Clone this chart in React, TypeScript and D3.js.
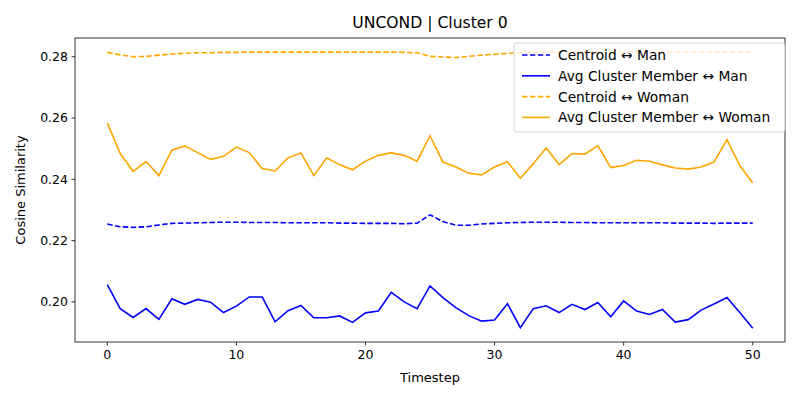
import * as d3 from "d3"

const timesteps = d3.range(0, 51)

const centroidMan = [
  0.2254, 0.2245, 0.2243, 0.2245, 0.2251, 0.2256, 0.2257, 0.2258, 0.2259, 0.226,
  0.226, 0.2259, 0.2259, 0.2259, 0.2258, 0.2258, 0.2258, 0.2258, 0.2257, 0.2257,
  0.2256, 0.2256, 0.2256, 0.2255, 0.2257, 0.2284, 0.2262, 0.225, 0.225, 0.2254,
  0.2256, 0.2258, 0.2259, 0.226, 0.226, 0.226, 0.2259, 0.2259, 0.2258, 0.2258,
  0.2258, 0.2258, 0.2258, 0.2258, 0.2257, 0.2257, 0.2257, 0.2256, 0.2257, 0.2257,
  0.2257,
]
const avgMan = [
  0.2056, 0.1978, 0.1949, 0.1978, 0.1943, 0.201, 0.1992, 0.2008, 0.1999, 0.1965,
  0.1986, 0.2016, 0.2016, 0.1935, 0.1971, 0.1988, 0.1948, 0.1948, 0.1954, 0.1933,
  0.1964, 0.197, 0.2031, 0.2, 0.1978, 0.2052, 0.2014, 0.1981, 0.1955, 0.1937,
  0.1941, 0.1994, 0.1916, 0.1978, 0.1987, 0.1965, 0.1992, 0.1975, 0.1998, 0.1951,
  0.2003, 0.197, 0.1959, 0.1975, 0.1934, 0.1942, 0.1973, 0.1993, 0.2014, 0.1965,
  0.1914,
]
const centroidWoman = [
  0.2814, 0.2806, 0.28, 0.2801, 0.2805, 0.2809, 0.2811, 0.2813, 0.2813, 0.2814,
  0.2814, 0.2815, 0.2815, 0.2815, 0.2815, 0.2815, 0.2815, 0.2815, 0.2815, 0.2815,
  0.2815, 0.2815, 0.2815, 0.2814, 0.2813, 0.2801, 0.2799, 0.2797, 0.2801, 0.2805,
  0.2808, 0.2811, 0.2813, 0.2814, 0.2815, 0.2815, 0.2815, 0.2815, 0.2815, 0.2815,
  0.2815, 0.2815, 0.2815, 0.2815, 0.2815, 0.2815, 0.2815, 0.2815, 0.2815, 0.2815,
  0.2815,
]
const avgWoman = [
  0.2584, 0.2484, 0.2426, 0.2458, 0.2412, 0.2495, 0.2509, 0.2487, 0.2465, 0.2475,
  0.2505, 0.2487, 0.2435, 0.2427, 0.247, 0.2486, 0.2412, 0.247, 0.2447, 0.2431,
  0.2459, 0.2478, 0.2486, 0.2478, 0.2459, 0.2542, 0.2456, 0.244, 0.242, 0.2414,
  0.244, 0.2457, 0.2403, 0.2451, 0.2502, 0.2448, 0.2484, 0.2482, 0.251, 0.2438,
  0.2445, 0.2462, 0.2459, 0.2447, 0.2437, 0.2433, 0.244, 0.2456, 0.2529, 0.2445,
  0.2388,
]

const series = [
  { label: "Centroid ↔ Man", values: centroidMan, color: "blue", dashed: true },
  { label: "Avg Cluster Member ↔ Man", values: avgMan, color: "blue", dashed: false },
  { label: "Centroid ↔ Woman", values: centroidWoman, color: "orange", dashed: true },
  { label: "Avg Cluster Member ↔ Woman", values: avgWoman, color: "orange", dashed: false },
]

const xTicks = [0, 10, 20, 30, 40, 50]
const yTicks = [0.2, 0.22, 0.24, 0.26, 0.28]

export default function App() {
  const width = 800
  const height = 400
  const margin = { top: 38, right: 15, bottom: 58, left: 75 }
  const x = d3.scaleLinear().domain([-2.5, 52.5]).range([margin.left, width - margin.right])
  const y = d3.scaleLinear().domain([0.1869, 0.2861]).range([height - margin.bottom, margin.top])
  const line = (vals: number[]) =>
    d3.line<number>().x((_, i) => x(timesteps[i])).y((v) => y(v))(vals) || ""
  const font = "DejaVu Sans"
  const lx = 514
  const ly = 43

  return (
    <svg width={width} height={height} style={{ position: "absolute", left: 0, top: 0 }} fontFamily={font}>
      <rect width={width} height={height} fill="white" />
      <text x={(margin.left + width - margin.right) / 2} y={28} textAnchor="middle" fontSize={15.6}>
        UNCOND | Cluster 0
      </text>
      {series.map((s) => (
        <path key={s.label} d={line(s.values)} fill="none" stroke={s.color} strokeWidth={1.6}
          strokeDasharray={s.dashed ? "5.5,2.4" : undefined} />
      ))}
      <rect x={margin.left} y={margin.top} width={width - margin.left - margin.right}
        height={height - margin.bottom - margin.top} fill="none" stroke="black" strokeWidth={0.8} />
      {xTicks.map((t) => (
        <g key={t}>
          <line x1={x(t)} x2={x(t)} y1={height - margin.bottom} y2={height - margin.bottom + 3.5} stroke="black" strokeWidth={0.8} />
          <text x={x(t)} y={height - margin.bottom + 17} textAnchor="middle" fontSize={12.5}>{t}</text>
        </g>
      ))}
      {yTicks.map((t) => (
        <g key={t}>
          <line x1={margin.left - 3.5} x2={margin.left} y1={y(t)} y2={y(t)} stroke="black" strokeWidth={0.8} />
          <text x={margin.left - 7} y={y(t) + 4.5} textAnchor="end" fontSize={12.5}>{t.toFixed(2)}</text>
        </g>
      ))}
      <text x={(margin.left + width - margin.right) / 2} y={382} textAnchor="middle" fontSize={13}>Timestep</text>
      <text transform={`translate(25,${(margin.top + height - margin.bottom) / 2}) rotate(-90)`} textAnchor="middle" fontSize={13}>
        Cosine Similarity
      </text>
      <rect x={lx} y={ly} width={271} height={89} rx={3} fill="white" fillOpacity={0.8} stroke="#cccccc" strokeWidth={0.8} />
      {series.map((s, i) => (
        <g key={s.label} transform={`translate(${lx + 8},${ly + 12 + i * 20.8})`}>
          <line x1={0} x2={28} y1={0} y2={0} stroke={s.color} strokeWidth={1.6} strokeDasharray={s.dashed ? "5.5,2.4" : undefined} />
          <text x={36} y={5} fontSize={13.8}>{s.label}</text>
        </g>
      ))}
    </svg>
  )
}
